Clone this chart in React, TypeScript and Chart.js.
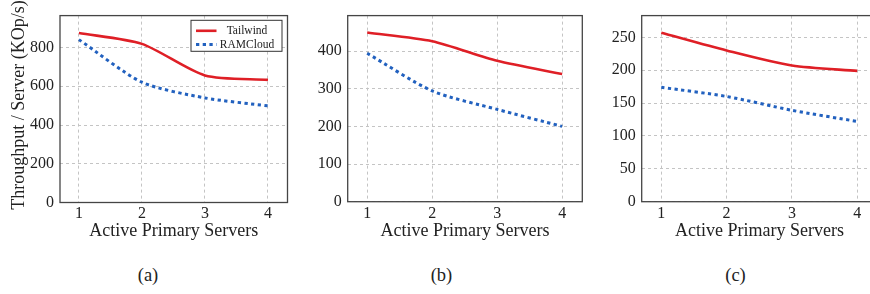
import React, { useEffect, useRef } from "react";
import { Chart, registerables } from "chart.js";

Chart.register(...registerables);

const servers = [1, 2, 3, 4];
const tailwindA = [875, 819, 656, 633];
const ramcloudA = [841, 621, 540, 499];
const tailwindB = [449, 426, 374, 339];
const ramcloudB = [394, 294, 245, 200];
const tailwindC = [257, 230, 207, 199];
const ramcloudC = [174, 160, 139, 122];
const yTicksA = [0, 200, 400, 600, 800];
const yTicksB = [0, 100, 200, 300, 400];
const yTicksC = [0, 50, 100, 150, 200, 250];
const seriesNames = ["Tailwind", "RAMCloud"];
const xTitle = "Active Primary Servers";
const yTitle = "Throughput / Server (KOp/s)";
const captions = ["(a)", "(b)", "(c)"];

const FONT = "'Liberation Serif', serif";
const RED = "#df1f26";
const BLUE = "#2261bf";

const framePlugin = {
  id: "frame",
  afterDraw(chart: any, _args: any, opts: any) {
    const { ctx, chartArea: a } = chart;
    ctx.save();
    ctx.strokeStyle = "#454545";
    ctx.lineWidth = 1.3;
    ctx.strokeRect(a.left, a.top, a.right - a.left, a.bottom - a.top);
    if (opts.yTitle) {
      ctx.translate(opts.yTitleX, opts.yTitleY);
      ctx.rotate(-Math.PI / 2);
      ctx.fillStyle = "#222";
      ctx.font = `18px ${FONT}`;
      ctx.textAlign = "center";
      ctx.textBaseline = "middle";
      ctx.fillText(opts.yTitle, 0, 0);
      ctx.setTransform(1, 0, 0, 1, 0, 0);
    }
    if (opts.legend) {
      const bw = 91, bh = 31;
      const bx = a.right - 5.5 - bw;
      const by = a.top + 4.7;
      ctx.fillStyle = "#fff";
      ctx.fillRect(bx, by, bw, bh);
      ctx.strokeStyle = "#333";
      ctx.lineWidth = 1;
      ctx.strokeRect(bx, by, bw, bh);
      const ds = chart.data.datasets;
      ds.forEach((d: any, i: number) => {
        const yy = by + 10.5 + i * 13.8;
        ctx.save();
        ctx.strokeStyle = d.borderColor;
        ctx.lineWidth = d.borderWidth;
        ctx.lineCap = "butt";
        ctx.setLineDash(d.borderDash || []);
        ctx.beginPath();
        ctx.moveTo(bx + 5, yy);
        ctx.lineTo(bx + 25.5, yy);
        ctx.stroke();
        ctx.restore();
        ctx.fillStyle = "#222";
        ctx.font = `11.5px ${FONT}`;
        ctx.textAlign = "center";
        ctx.textBaseline = "middle";
        ctx.fillText(d.label, bx + 56, yy);
      });
    }
    ctx.restore();
  },
};

type PanelProps = {
  left: number;
  yWidth: number;
  rightPad: number;
  top: number;
  bottom: number;
  yMax: number;
  yTicks: number[];
  tailwind: number[];
  ramcloud: number[];
  showYTitle?: boolean;
  showLegend?: boolean;
};

const CW = 300;
const CH = 242;

function Panel(p: PanelProps) {
  const ref = useRef<HTMLCanvasElement>(null);
  useEffect(() => {
    if (!ref.current) return;
    const chart = new Chart(ref.current, {
      type: "line",
      data: {
        datasets: [
          {
            label: seriesNames[0],
            data: servers.map((x, i) => ({ x, y: p.tailwind[i] })),
            borderColor: RED,
            backgroundColor: RED,
            borderWidth: 2.6,
            pointRadius: 0,
            tension: 0.25,
            borderCapStyle: "butt",
          },
          {
            label: seriesNames[1],
            data: servers.map((x, i) => ({ x, y: p.ramcloud[i] })),
            borderColor: BLUE,
            backgroundColor: BLUE,
            borderWidth: 3,
            borderDash: [3.3, 3.4],
            pointRadius: 0,
            tension: 0.25,
            borderCapStyle: "butt",
          },
        ],
      },
      options: {
        animation: false,
        responsive: false,
        devicePixelRatio: 1,
        layout: { padding: { top: p.top, right: p.rightPad, left: 0, bottom: 0 } },
        plugins: {
          legend: { display: false },
          tooltip: { enabled: false },
          frame: {
            legend: !!p.showLegend,
            yTitle: p.showYTitle ? yTitle : null,
            yTitleX: 19.5,
            yTitleY: 105,
          },
        } as any,
        scales: {
          x: {
            type: "linear",
            min: 0.7,
            max: 4.31,
            afterBuildTicks: (s: any) => {
              s.ticks = servers.map((v) => ({ value: v }));
            },
            afterFit: (s: any) => {
              s.height = CH - p.bottom;
            },
            grid: { color: "#c4c4c4", lineWidth: 1, drawTicks: false },
            border: { display: false, dash: [3, 3] },
            ticks: {
              padding: 2,
              color: "#222",
              font: { family: FONT, size: 16 },
              maxRotation: 0,
            },
            title: {
              display: true,
              text: xTitle,
              color: "#222",
              font: { family: FONT, size: 18 },
              padding: { top: 0, bottom: 0 },
            },
          },
          y: {
            type: "linear",
            min: 0,
            max: p.yMax,
            afterBuildTicks: (s: any) => {
              s.ticks = p.yTicks.map((v) => ({ value: v }));
            },
            afterFit: (s: any) => {
              s.width = p.yWidth;
            },
            grid: { color: "#c4c4c4", lineWidth: 1, drawTicks: false },
            border: { display: false, dash: [3, 3] },
            ticks: {
              padding: 6,
              color: "#222",
              font: { family: FONT, size: 16 },
            },
          },
        },
      },
      plugins: [framePlugin],
    } as any);
    return () => chart.destroy();
  }, []);
  return (
    <canvas
      ref={ref}
      width={CW}
      height={CH}
      style={{ position: "absolute", left: p.left, top: 0, width: CW, height: CH, display: "block" }}
    />
  );
}

const captionCenters = [148, 441.5, 735.5];

export default function App() {
  return (
    <div
      style={{
        position: "fixed",
        left: 0,
        top: 0,
        width: 870,
        height: 294,
        overflow: "hidden",
        background: "#fff",
      }}
    >
      <Panel
        left={0}
        yWidth={60}
        rightPad={CW - 287.5}
        top={13.3}
        bottom={202.5}
        yMax={965}
        yTicks={yTicksA}
        tailwind={tailwindA}
        ramcloud={ramcloudA}
        showYTitle
        showLegend
      />
      <Panel
        left={290}
        yWidth={57.7}
        rightPad={CW - 292.3}
        top={6.7}
        bottom={201.7}
        yMax={494}
        yTicks={yTicksB}
        tailwind={tailwindB}
        ramcloud={ramcloudB}
      />
      <Panel
        left={580}
        yWidth={61.7}
        rightPad={CW - 297.5}
        top={6.7}
        bottom={201.7}
        yMax={283}
        yTicks={yTicksC}
        tailwind={tailwindC}
        ramcloud={ramcloudC}
      />
      {captions.map((c, i) => (
        <div
          key={c}
          style={{
            position: "absolute",
            left: captionCenters[i] - 50,
            width: 100,
            top: 265,
            height: 20,
            lineHeight: "20px",
            textAlign: "center",
            fontFamily: FONT,
            fontSize: 18.5,
            color: "#222",
          }}
        >
          {c}
        </div>
      ))}
    </div>
  );
}
